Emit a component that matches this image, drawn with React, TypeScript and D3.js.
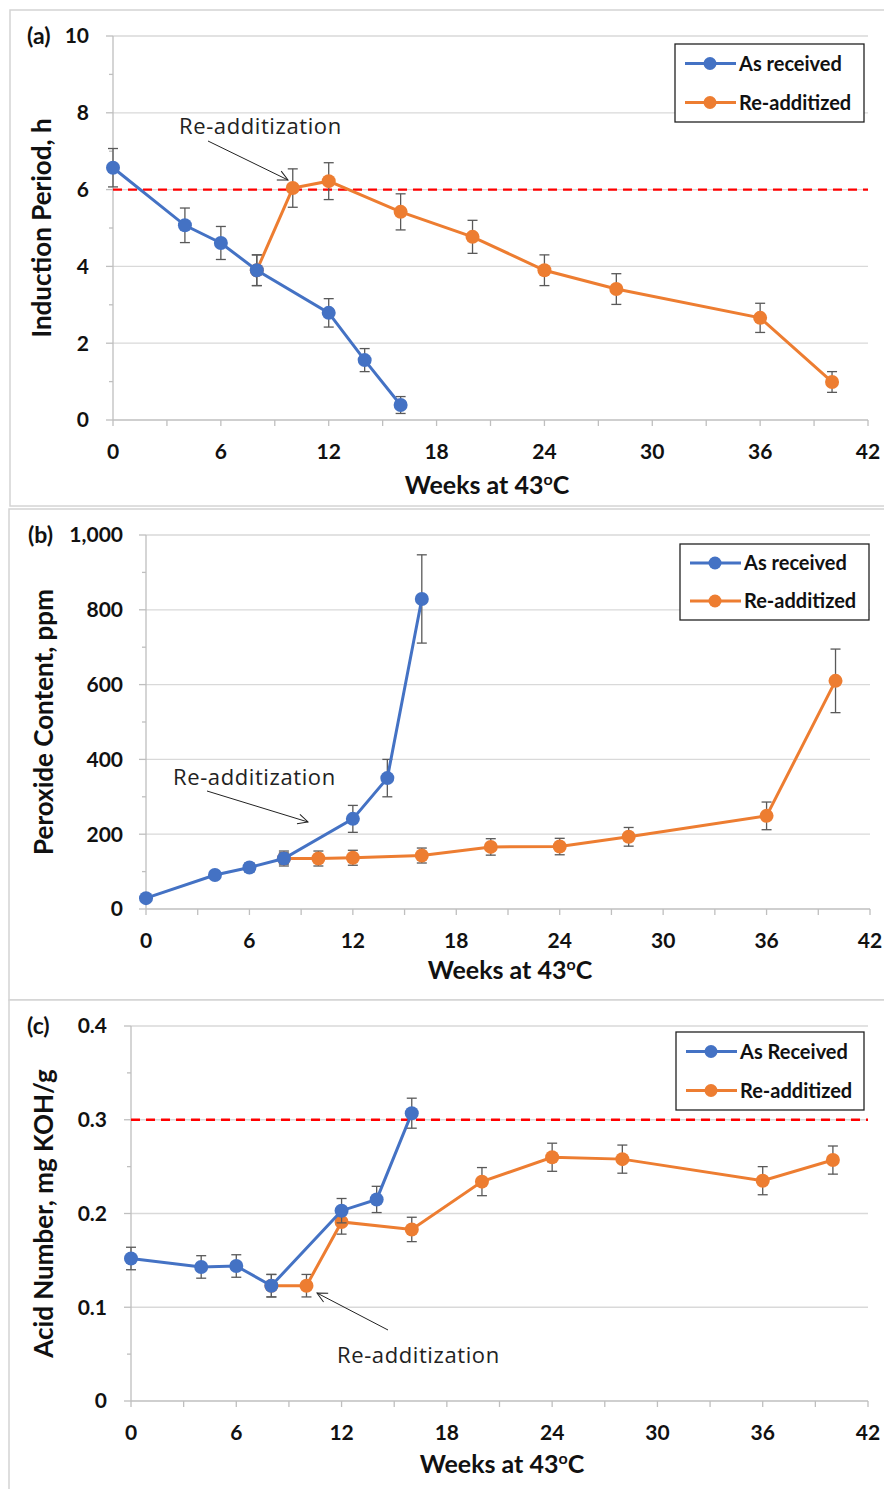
import React from "react";
import * as d3 from "d3";

// weeks on the x axis
const weeksAsReceived = [0, 4, 6, 8, 12, 14, 16];
const weeksReadd = [8, 10, 12, 16, 20, 24, 28, 36, 40];

// (a) induction period, h
const ipAsReceived = [6.57, 5.07, 4.61, 3.9, 2.79, 1.56, 0.39];
const ipAsReceivedErr = [0.5, 0.45, 0.43, 0.4, 0.37, 0.3, 0.22];
const ipReadd = [3.9, 6.04, 6.22, 5.42, 4.77, 3.9, 3.41, 2.66, 0.99];
const ipReaddErr = [0.4, 0.5, 0.48, 0.47, 0.43, 0.4, 0.4, 0.38, 0.27];

// (b) peroxide content, ppm
const pxAsReceived = [29, 91, 111, 135, 241, 350, 829];
const pxAsReceivedErr = [0, 8, 12, 15, 36, 50, 118];
const pxReadd = [135, 135, 137, 143, 166, 167, 193, 249, 610];
const pxReaddErr = [20, 20, 20, 20, 22, 22, 25, 37, 85];

// (c) acid number, mg KOH/g
const anAsReceived = [0.152, 0.143, 0.144, 0.123, 0.203, 0.215, 0.307];
const anAsReceivedErr = [0.012, 0.012, 0.012, 0.012, 0.013, 0.014, 0.016];
const anReadd = [0.123, 0.123, 0.191, 0.183, 0.234, 0.26, 0.258, 0.235, 0.257];
const anReaddErr = [0.012, 0.012, 0.013, 0.013, 0.015, 0.015, 0.015, 0.015, 0.015];

const xTicks = [0, 6, 12, 18, 24, 30, 36, 42];
const xMinorTicks = d3.range(0, 43, 3);

const BLUE = "#4472C4";
const ORANGE = "#ED7D31";
const FONT = "Lato, 'Open Sans', sans-serif";

type Pt = { w: number; v: number; e: number };

const zip = (w: number[], v: number[], e: number[]): Pt[] =>
  w.map((d, i) => ({ w: d, v: v[i], e: e[i] }));

type PanelProps = {
  frame: [number, number, number, number];
  left: number;
  right: number;
  top: number;
  bottom: number;
  yMax: number;
  yStep: number;
  yFormat: (d: number) => string;
  labelX: number;
  tag: string;
  tagX: number;
  yTitle: string;
  yTitleX: number;
  xTitleX: number;
  xTitleY: number;
  blue: Pt[];
  orange: Pt[];
  limit?: number;
  legend: [number, number, number, number];
  legendBlue: string;
  note: { tx: number; ty: number; x1: number; y1: number; x2: number; y2: number };
};

const Panel = (p: PanelProps) => {
  const x = d3.scaleLinear().domain([0, 42]).range([p.left, p.right]);
  const y = d3.scaleLinear().domain([0, p.yMax]).range([p.bottom, p.top]);
  const majors = d3.range(0, p.yMax + p.yStep / 2, p.yStep);
  const minors = d3.range(p.yStep / 2, p.yMax, p.yStep);
  const line = d3
    .line<Pt>()
    .x((d) => x(d.w))
    .y((d) => y(d.v));

  const series = (data: Pt[], color: string) => (
    <g>
      <g stroke="#595959" strokeWidth={1.3}>
        {data
          .filter((d) => d.e > 0)
          .map((d, i) => (
            <g key={i}>
              <line x1={x(d.w)} x2={x(d.w)} y1={y(d.v - d.e)} y2={y(d.v + d.e)} />
              <line x1={x(d.w) - 5} x2={x(d.w) + 5} y1={y(d.v - d.e)} y2={y(d.v - d.e)} />
              <line x1={x(d.w) - 5} x2={x(d.w) + 5} y1={y(d.v + d.e)} y2={y(d.v + d.e)} />
            </g>
          ))}
      </g>
      <path d={line(data) ?? ""} fill="none" stroke={color} strokeWidth={3} />
      {data.map((d, i) => (
        <circle key={i} cx={x(d.w)} cy={y(d.v)} r={7} fill={color} />
      ))}
    </g>
  );

  const [lx, ly, lw, lh] = p.legend;
  const [fx, fy, fw, fh] = p.frame;
  const n = p.note;

  return (
    <g>
      <rect x={fx} y={fy} width={fw} height={fh} fill="white" stroke="#d4d4d4" strokeWidth={1.5} />
      {/* grid */}
      {majors.slice(1).map((d) => (
        <line key={d} x1={p.left} x2={p.right} y1={y(d)} y2={y(d)} stroke="#d9d9d9" strokeWidth={1.3} />
      ))}
      {/* y axis */}
      <line x1={p.left} x2={p.left} y1={p.top} y2={p.bottom} stroke="#bfbfbf" strokeWidth={1.3} />
      {majors.map((d) => (
        <line key={d} x1={p.left - 7} x2={p.left} y1={y(d)} y2={y(d)} stroke="#bfbfbf" strokeWidth={1.3} />
      ))}
      {minors.map((d) => (
        <line key={d} x1={p.left - 4} x2={p.left} y1={y(d)} y2={y(d)} stroke="#bfbfbf" strokeWidth={1.3} />
      ))}
      {majors.map((d) => (
        <text key={d} x={p.labelX} y={y(d)} dy="0.35em" textAnchor="end" fontSize={21} fontWeight="bold" fill="#111">
          {p.yFormat(d)}
        </text>
      ))}
      {/* x axis */}
      <line x1={p.left} x2={p.right} y1={p.bottom} y2={p.bottom} stroke="#bfbfbf" strokeWidth={1.3} />
      {xMinorTicks.map((d) => (
        <line key={d} x1={x(d)} x2={x(d)} y1={p.bottom} y2={p.bottom + 6} stroke="#bfbfbf" strokeWidth={1.3} />
      ))}
      {xTicks.map((d) => (
        <text key={d} x={x(d)} y={p.bottom + 39} textAnchor="middle" fontSize={21} fontWeight="bold" fill="#111">
          {d}
        </text>
      ))}
      <text x={p.xTitleX} y={p.xTitleY} textAnchor="middle" fontSize={25} fontWeight="bold" fill="#111">
        Weeks at 43
        <tspan fontSize={16} dy={-9}>o</tspan>
        <tspan dy={9}>C</tspan>
      </text>
      <text
        transform={`translate(${p.yTitleX},${(p.top + p.bottom) / 2}) rotate(-90)`}
        textAnchor="middle"
        fontSize={26}
        fontWeight="bold"
        fill="#111"
      >
        {p.yTitle}
      </text>
      <text x={p.tagX} y={p.top} dy="0.35em" fontSize={23} fontWeight="bold" fill="#111">
        {p.tag}
      </text>
      {p.limit !== undefined && (
        <line
          x1={p.left}
          x2={p.right}
          y1={y(p.limit)}
          y2={y(p.limit)}
          stroke="#ff0000"
          strokeWidth={2.4}
          strokeDasharray="9,6"
        />
      )}
      {series(p.orange, ORANGE)}
      {series(p.blue, BLUE)}
      {/* annotation */}
      <text x={n.tx} y={n.ty} fontSize={22} letterSpacing={0.6} fill="#222" fontFamily="'Open Sans', sans-serif">
        Re-additization
      </text>
      <line x1={n.x1} y1={n.y1} x2={n.x2} y2={n.y2} stroke="#222" strokeWidth={1} markerEnd="url(#arrowOpen)" />
      {/* legend */}
      <rect x={lx} y={ly} width={lw} height={lh} fill="white" stroke="#222" strokeWidth={1.3} />
      {[
        { c: BLUE, t: p.legendBlue },
        { c: ORANGE, t: "Re-additized" },
      ].map((d, i) => {
        const cy = ly + lh * (0.25 + 0.5 * i);
        return (
          <g key={i}>
            <line x1={lx + 10} x2={lx + 61} y1={cy} y2={cy} stroke={d.c} strokeWidth={3} />
            <circle cx={lx + 35} cy={cy} r={6.5} fill={d.c} />
            <text x={lx + 64} y={cy} dy="0.35em" fontSize={20} fontWeight="bold" fill="#111">
              {d.t}
            </text>
          </g>
        );
      })}
    </g>
  );
};

export default function App() {
  return (
    <svg
      width={884}
      height={1489}
      style={{ position: "absolute", left: 0, top: 0, fontFamily: FONT }}
    >
      <defs>
        <marker id="arrowOpen" viewBox="0 0 12 12" refX={11} refY={6} markerWidth={12} markerHeight={12} orient="auto" markerUnits="userSpaceOnUse">
          <path d="M1,1 L11,6 L1,11" fill="none" stroke="#222" strokeWidth={1} />
        </marker>
      </defs>
      <rect width={884} height={1489} fill="white" />
      <Panel
        frame={[10, 10, 890, 496]}
        left={113}
        right={868}
        top={36}
        bottom={420}
        yMax={10}
        yStep={2}
        yFormat={(d) => String(d)}
        labelX={89}
        tag="(a)"
        tagX={27}
        yTitle="Induction Period, h"
        yTitleX={51}
        xTitleX={487}
        xTitleY={494}
        blue={zip(weeksAsReceived, ipAsReceived, ipAsReceivedErr)}
        orange={zip(weeksReadd, ipReadd, ipReaddErr)}
        limit={6}
        legend={[675, 44, 189, 78]}
        legendBlue="As received"
        note={{ tx: 179, ty: 134, x1: 208, y1: 141, x2: 288, y2: 180 }}
      />
      <Panel
        frame={[9, 509, 890, 491]}
        left={146}
        right={870}
        top={535}
        bottom={909}
        yMax={1000}
        yStep={200}
        yFormat={d3.format(",")}
        labelX={123}
        tag="(b)"
        tagX={28}
        yTitle="Peroxide Content, ppm"
        yTitleX={53}
        xTitleX={510}
        xTitleY={979}
        blue={zip(weeksAsReceived, pxAsReceived, pxAsReceivedErr)}
        orange={zip(weeksReadd, pxReadd, pxReaddErr)}
        legend={[680, 544, 189, 76]}
        legendBlue="As received"
        note={{ tx: 173, ty: 785, x1: 207, y1: 791, x2: 308, y2: 822 }}
      />
      <Panel
        frame={[9, 1000, 890, 500]}
        left={131}
        right={868}
        top={1026}
        bottom={1401}
        yMax={0.4}
        yStep={0.1}
        yFormat={(d) => (d === 0 ? "0" : d3.format(".1f")(d))}
        labelX={107}
        tag="(c)"
        tagX={27}
        yTitle="Acid Number, mg KOH/g"
        yTitleX={53}
        xTitleX={502}
        xTitleY={1473}
        blue={zip(weeksAsReceived, anAsReceived, anAsReceivedErr)}
        orange={zip(weeksReadd, anReadd, anReaddErr)}
        limit={0.3}
        legend={[676, 1032, 188, 78]}
        legendBlue="As Received"
        note={{ tx: 337, ty: 1363, x1: 388, y1: 1330, x2: 317, y2: 1293 }}
      />
    </svg>
  );
}
